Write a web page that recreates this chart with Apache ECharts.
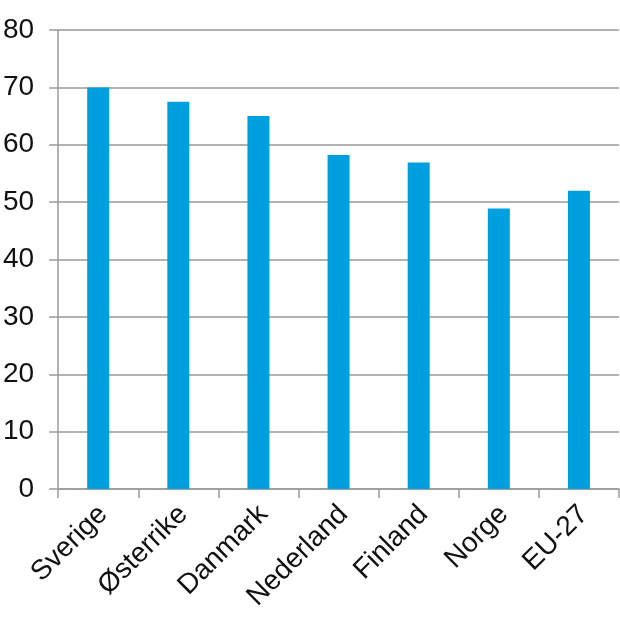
<!DOCTYPE html>
<html>
<head>
<meta charset="utf-8">
<script src="https://cdn.jsdelivr.net/npm/echarts@6/dist/echarts.min.js"></script>
<style>html,body{margin:0;padding:0;background:#fff}#c{width:620px;height:624px}</style>
</head>
<body>
<div id="c"></div>
<script>
var categories = ['Sverige', 'Østerrike', 'Danmark', 'Nederland', 'Finland', 'Norge', 'EU-27'];
var values = [70, 67.5, 65, 58.2, 56.9, 48.9, 52];
var chart = echarts.init(document.getElementById('c'), null, {renderer: 'canvas'});
chart.setOption({
  animation: false,
  grid: {left: 56, right: 1, top: 30, bottom: 135, containLabel: false},
  xAxis: {
    type: 'category',
    data: categories,
    boundaryGap: true,
    axisLine: {show: true, lineStyle: {color: '#9a9a9a', width: 1.5}},
    axisTick: {show: true, alignWithLabel: false, length: 9, lineStyle: {color: '#9a9a9a', width: 1.5}},
    axisLabel: {rotate: 45, margin: 16, align: 'right', verticalAlign: 'top', lineHeight: 14, interval: 0, color: '#111', fontSize: 28, fontFamily: 'Liberation Sans, Arial, sans-serif'}
  },
  yAxis: {
    type: 'value',
    min: 0, max: 80, interval: 10,
    axisLine: {show: true, lineStyle: {color: '#9a9a9a', width: 1.5}},
    axisTick: {show: true, length: 9, lineStyle: {color: '#9a9a9a', width: 1.5}},
    splitLine: {show: true, lineStyle: {color: '#9a9a9a', width: 1.5}},
    axisLabel: {margin: 24, color: '#111', fontSize: 28, fontFamily: 'Liberation Sans, Arial, sans-serif'}
  },
  series: [{
    type: 'bar',
    data: values,
    barWidth: 22,
    itemStyle: {color: '#009fe0'}
  }]
});
</script>
</body>
</html>
